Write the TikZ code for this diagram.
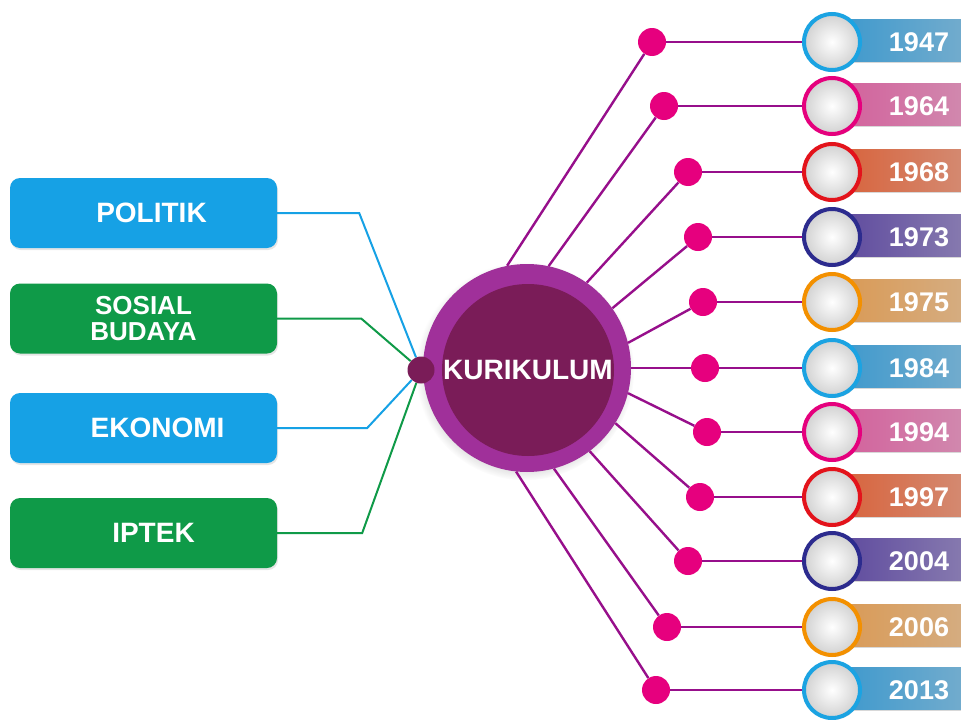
\documentclass[tikz,border=0pt]{standalone}
\usepackage{fontspec}
\setmainfont{Liberation Sans}
\usetikzlibrary{shadows}

\definecolor{polblue}{HTML}{16A1E5}
\definecolor{sosgreen}{HTML}{0F9A48}
\definecolor{plum}{HTML}{7A1C58}
\definecolor{orchid}{HTML}{A0309A}
\definecolor{spokecol}{HTML}{970F8B}
\definecolor{pinkdot}{HTML}{E6007E}
\definecolor{ringcyan}{HTML}{1BA3E2}
\definecolor{ringmag}{HTML}{E5007D}
\definecolor{ringred}{HTML}{E3131B}
\definecolor{ringnavy}{HTML}{2C2B8E}
\definecolor{ringorange}{HTML}{F39000}
\definecolor{bandcyan}{HTML}{3E99CD}
\definecolor{bandmag}{HTML}{D3619C}
\definecolor{bandred}{HTML}{D8633C}
\definecolor{bandnavy}{HTML}{5E4A9E}
\definecolor{bandorange}{HTML}{DA9A55}

\begin{document}
\begin{tikzpicture}[x=1pt, y=-1pt,
  topic/.style={rounded corners=10pt, minimum width=267pt, minimum height=70pt,
    text=white, align=center, font=\bfseries\fontsize{28}{28}\selectfont,
    drop shadow={opacity=0.2, shadow xshift=1pt, shadow yshift=-2pt}},
  link/.style={line width=2pt},
  spokeline/.style={spokecol, line width=2.4pt},
  yeardot/.style={circle, fill=pinkdot, minimum size=28pt, inner sep=0pt},
  ringnode/.style={circle, line width=4pt, minimum size=56pt, inner sep=0pt,
    inner color=white, outer color=black!18,
    drop shadow={opacity=0.25, shadow xshift=1pt, shadow yshift=-2pt}},
  yearband/.style={minimum width=135pt, minimum height=42pt, inner sep=0pt,
    drop shadow={opacity=0.3, shadow xshift=0pt, shadow yshift=-2pt}},
  yeartext/.style={text=white, font=\bfseries\fontsize{27}{27}\selectfont}]

  \useasboundingbox[fill=white] (0,0) rectangle (961,720);

  % 中心圆
  \node[circle, fill=orchid, minimum size=208pt, inner sep=0pt,
    circular drop shadow={opacity=0.35, shadow xshift=-2pt, shadow yshift=-3pt, shadow scale=1.05}]
    (kur) at (527,368) {};
  \node[circle, fill=plum, minimum size=172pt, inner sep=0pt, text=white,
    font=\bfseries\fontsize{28}{28}\selectfont] (kurin) at (528,370) {KURIKULUM};
  \node[circle, fill=plum, minimum size=27pt, inner sep=0pt] (hub) at (421,370) {};

  % 左侧四个方框（文字略偏右）
  \node[topic, fill=polblue]  (politik) at (143.5,213)   {\hspace*{16pt}POLITIK};
  \node[topic, fill=sosgreen, font=\bfseries\fontsize{26}{26}\selectfont]
                              (sosial)  at (143.5,318.5) {SOSIAL\\BUDAYA};
  \node[topic, fill=polblue]  (ekonomi) at (143.5,428)   {\hspace*{28pt}EKONOMI};
  \node[topic, fill=sosgreen] (iptek)   at (143.5,533)   {\hspace*{20pt}IPTEK};

  \draw[link, polblue]  (politik.east) -- ++(82,0) -- (hub);
  \draw[link, sosgreen] (sosial.east)  -- ++(84,0) -- (hub);
  \draw[link, polblue]  (ekonomi.east) -- ++(90,0) -- (hub);
  \draw[link, sosgreen] (iptek.east)   -- ++(85,0) -- (hub);

  % 右侧年份：年/角度/圆点x/y/颜色
  \foreach \yr/\ang/\dx/\y/\ring/\band [count=\i] in {
      1947/101/652/42/ringcyan/bandcyan,
      1964/78/664/106/ringmag/bandmag,
      1968/55/688/172/ringred/bandred,
      1973/35/698/237/ringnavy/bandnavy,
      1975/14/703/302/ringorange/bandorange,
      1984/0/705/368/ringcyan/bandcyan,
      1994/346/707/432/ringmag/bandmag,
      1997/328/700/497/ringred/bandred,
      2004/307/688/561/ringnavy/bandnavy,
      2006/285/667/627/ringorange/bandorange,
      2013/264/656/690/ringcyan/bandcyan} {
    \node[yearband, left color=\band, right color=\band!65!white!92!black] (band\i) at (907.5,\y-2) {};
    \node[ringnode, draw=\ring] (ring\i) at (832,\y) {};
    \node[yeartext] (yr\i) at (919,\y) {\yr};
    \node[yeardot] (dot\i) at (\dx,\y) {};
    \draw[spokeline] (kur.\ang) -- (dot\i);
    \draw[spokeline, line width=2pt] (dot\i) -- (ring\i);
  }
\end{tikzpicture}
\end{document}
